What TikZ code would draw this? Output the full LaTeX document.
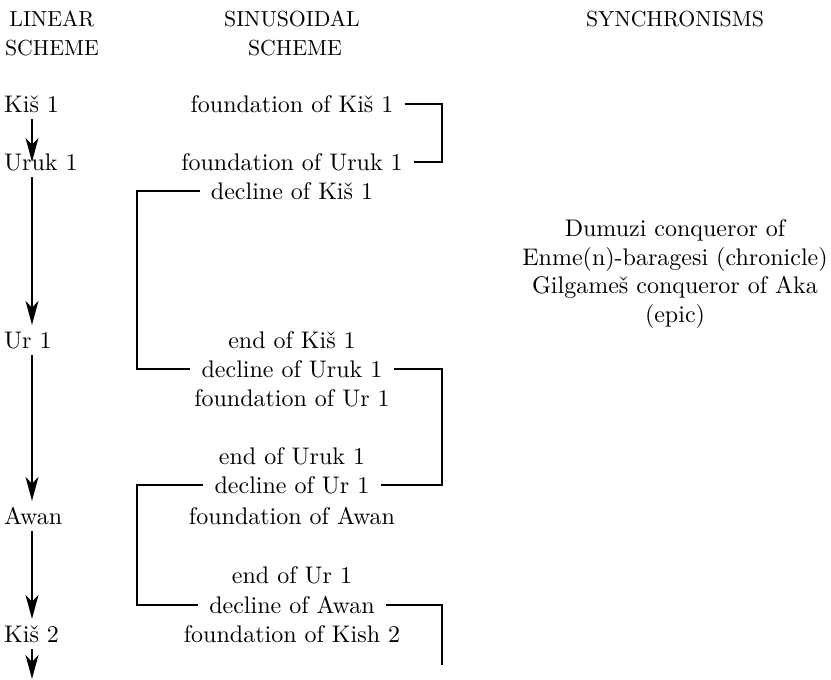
\documentclass[tikz,border=0pt]{standalone}
\usepackage{fontspec}
\setmainfont{lmroman10-regular.otf}
\usetikzlibrary{arrows.meta}
\begin{document}
\begin{tikzpicture}[x=1pt,y=-1pt,
  txt/.style={inner xsep=11pt, inner ysep=0pt, text height=16pt, text depth=0pt, font=\fontsize{24}{29}\selectfont},
  lab/.style={txt, inner xsep=0pt, inner ysep=7pt, anchor=west},
  syn/.style={txt, inner xsep=0pt},
  hdr/.style={txt, font=\fontsize{21.8}{26}\selectfont, inner xsep=0pt},
  arr/.style={line width=1.2pt, -{Stealth[length=24pt,width=13pt,inset=7pt]}},
  conn/.style={line width=1.2pt}]
\useasboundingbox (0,0) rectangle (831,680);
% headers
\node[hdr] (h1a) at (52,19) {LINEAR};
\node[hdr] (h1b) at (52,47) {SCHEME};
\node[hdr] (h2a) at (292,19) {SINUSOIDAL};
\node[hdr] (h2b) at (295,47) {SCHEME};
\node[hdr] (h3) at (675,19) {SYNCHRONISMS};
% linear scheme
\node[lab] (kis1) at (4,104) {Kiš 1};
\node[lab] (uruk1) at (4,162) {Uruk 1};
\node[lab] (ur1) at (4,340) {Ur 1};
\node[lab] (awan) at (4,516) {Awan};
\node[lab] (kis2) at (4,634) {Kiš 2};
% sinusoidal scheme
\node[txt] (fk1) at (292,104) {foundation of Kiš 1};
\node[txt] (fu1) at (292,162) {foundation of Uruk 1};
\node[txt] (dk1) at (292,191) {decline of Kiš 1};
\node[txt] (ek1) at (292,340) {end of Kiš 1};
\node[txt] (du1) at (292,369) {decline of Uruk 1};
\node[txt] (fur1) at (292,398) {foundation of Ur 1};
\node[txt] (eu1) at (292,456) {end of Uruk 1};
\node[txt] (dur1) at (292,485) {decline of Ur 1};
\node[txt] (fa) at (292,516) {foundation of Awan};
\node[txt] (eur1) at (292,575) {end of Ur 1};
\node[txt] (da) at (292,605) {decline of Awan};
\node[txt] (fk2) at (292,634) {foundation of Kish 2};
% synchronisms
\node[syn] (s1) at (675,228) {Dumuzi conqueror of};
\node[syn] (s2) at (675,257) {Enme(n)-baragesi (chronicle)};
\node[syn] (s3) at (675,285) {Gilgameš conqueror of Aka};
\node[syn] (s4) at (675,314) {(epic)};
% connectors of the sinusoidal scheme
\coordinate (xr) at (442,0);
\coordinate (xl) at (137,0);
\coordinate (tailend) at (442,665);
\draw[conn] (fk1.east) -- (fk1.east -| xr) -- (fu1.east -| xr) -- (fu1.east);
\draw[conn] (dk1.west) -- (dk1.west -| xl) -- (du1.west -| xl) -- (du1.west);
\draw[conn] (du1.east) -- (du1.east -| xr) -- (dur1.east -| xr) -- (dur1.east);
\draw[conn] (dur1.west) -- (dur1.west -| xl) -- (da.west -| xl) -- (da.west);
\draw[conn] (da.east) -- (da.east -| xr) -- (tailend);
% arrows of the linear scheme
\coordinate (ax) at (32,0);
\coordinate (bottom) at (32,679);
\draw[arr, shorten >=-15pt] (kis1.south -| ax) -- (uruk1.north -| ax);
\draw[arr] (uruk1.south -| ax) -- (ur1.north -| ax);
\draw[arr] (ur1.south -| ax) -- (awan.north -| ax);
\draw[arr] (awan.south -| ax) -- (kis2.north -| ax);
\draw[arr] (kis2.south -| ax) -- (bottom);
\end{tikzpicture}
\end{document}
